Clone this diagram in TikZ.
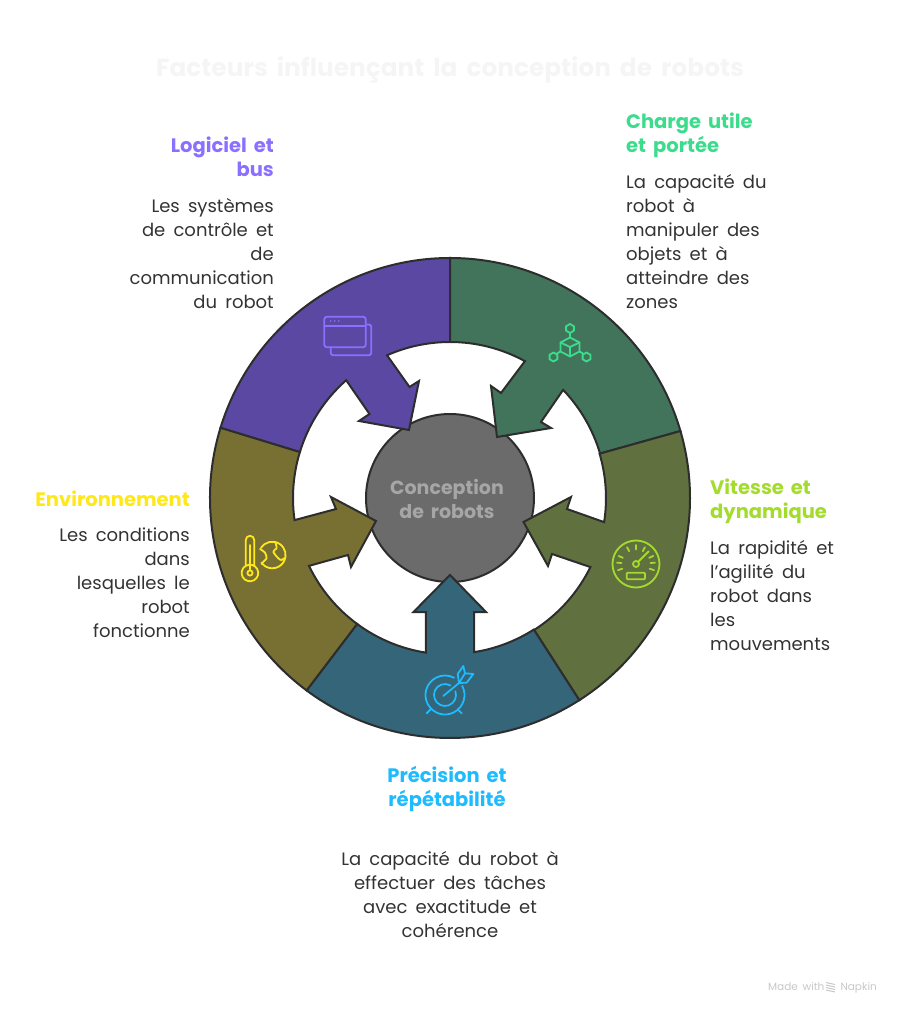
\documentclass[tikz,border=0pt]{standalone}
\usepackage{fontspec}
\setmainfont[WordSpace=1.7]{Poppins}
\usetikzlibrary{positioning}
\definecolor{inkline}{HTML}{2D2D2D}
\definecolor{bodyink}{HTML}{333333}
\definecolor{logicielfill}{HTML}{5B48A2}
\definecolor{chargefill}{HTML}{41745B}
\definecolor{vitessefill}{HTML}{60713F}
\definecolor{precisionfill}{HTML}{346578}
\definecolor{envfill}{HTML}{787033}
\definecolor{logicielink}{HTML}{8B6FFF}
\definecolor{chargeink}{HTML}{3BDC8C}
\definecolor{vitesseink}{HTML}{A4DC2E}
\definecolor{precisionink}{HTML}{1EBBFF}
\definecolor{envink}{HTML}{FFE81A}

\begin{document}
\begin{tikzpicture}[
    x=1pt, y=1pt,
    segment/.style={draw=inkline, line width=2pt, line join=miter},
    hub/.style={draw=inkline, line width=2pt, circle, fill=black!58, minimum size=168pt, inner sep=0pt},
    heading/.style={font=\fontsize{19.5}{24}\selectfont\bfseries, inner sep=0pt},
    body/.style={font=\fontsize{18}{24}\selectfont, text=bodyink, inner sep=0pt},
    icon/.style={line width=1.8pt, line cap=round, line join=round},
    credit/.style={font=\fontsize{10.5}{13}\selectfont, text=black!22, inner sep=0pt}
]
\useasboundingbox (-450,498) rectangle (450,-516);

% Title
\node[font=\fontsize{24.8}{30}\selectfont\bfseries, text=black!4] (title) at (0,428) {Facteurs influençant la conception de robots};

% Hub
\node[hub] (hub) at (0,0) {};

% Segments
\draw[segment, fill=logicielfill] (90:240) arc[start angle=90, end angle=163, radius=240] -- (163:157) arc[start angle=163, end angle=131.4, radius=157]
    -- (-80.5,84) -- (-91,77) -- (-41,68) -- (-31,117) -- (-40.5,111) -- (113.8:156) arc[start angle=113.8, end angle=90, radius=156] -- cycle;
\draw[segment, fill=chargefill] (90:240) arc[start angle=90, end angle=16.2, radius=240] -- (16.5:156.5) arc[start angle=16.5, end angle=43.7, radius=156.5]
    -- (91,76) -- (101,70) -- (47,61) -- (41,112) -- (51,105) -- (61.3:156) arc[start angle=61.3, end angle=90, radius=156] -- cycle;
\draw[segment, fill=vitessefill] (16.2:240) arc[start angle=16.2, end angle=-57.4, radius=240] -- (-57.5:156.5) arc[start angle=-57.5, end angle=-26.2, radius=156.5]
    -- (102,-56) -- (98,-68) -- (73.5,-24) -- (121,1) -- (117,-11) -- (-8.9:156) arc[start angle=-8.9, end angle=16.5, radius=156] -- cycle;
\draw[segment, fill=precisionfill] (-57.4:240) arc[start angle=-57.4, end angle=-126.7, radius=240] -- (-126.4:156.5) arc[start angle=-126.4, end angle=-98.9, radius=156.5]
    -- (-24,-114) -- (-36.5,-114) -- (0,-77) -- (36,-114) -- (24,-114) -- (-81.1:156) arc[start angle=-81.1, end angle=-57.5, radius=156] -- cycle;
\draw[segment, fill=envfill] (-126.7:240) arc[start angle=-126.7, end angle=-197, radius=240] -- (163:157) arc[start angle=163, end angle=188.1, radius=157]
    -- (-114,-11) -- (-119,1) -- (-74,-23) -- (-99,-69) -- (-102,-57) -- (205.7:156.5) arc[start angle=205.7, end angle=233.6, radius=156.5] -- cycle;

% Hub label
\node[font=\fontsize{19}{24}\selectfont\bfseries, text=black!35, align=center] (hublabel) at (-3,-1) {Conception\\de robots};

% Logiciel icon
\begin{scope}[icon, draw=logicielink]
\draw[rounded corners=2.5pt] (-125.7,181.3) rectangle (-84.3,150.7);
\draw (-125.7,172) -- (-84.3,172);
\draw[rounded corners=2.5pt] (-84.3,173.5) -- (-78.7,173.5) -- (-78.7,142.7) -- (-119.3,142.7) -- (-119.3,150.7);
\foreach \dotx in {-119.3,-115.3,-111.3} \fill[logicielink] (\dotx,177) circle (0.9);
\end{scope}

% Charge icon
\begin{scope}[icon, draw=chargeink, shift={(120,151)}]
\draw (0,9.5) -- (9.5,4.5) -- (9.5,-4.5) -- (0,-9.5) -- (-9.5,-4.5) -- (-9.5,4.5) -- cycle;
\draw (-9.5,4.5) -- (0,0) -- (9.5,4.5) (0,0) -- (0,-9.5);
\draw (0,9.5) -- (0,14) (-9.5,-4.5) -- (-13,-6.5) (9.5,-4.5) -- (13,-6.5);
\foreach \hexx/\hexy in {0/18.5,-16.5/-10,16.5/-10}
    \draw[shift={(\hexx,\hexy)}] (90:4.5) -- (30:4.5) -- (-30:4.5) -- (-90:4.5) -- (-150:4.5) -- (150:4.5) -- cycle;
\end{scope}

% Vitesse icon
\begin{scope}[icon, draw=vitesseink, shift={(186,-66)}]
\draw (0,0) circle (23.5);
\draw (0,0) circle (3);
\draw (2.2,2.2) -- (12.7,12.7);
\draw[rounded corners=1pt] (-9.3,-8.7) rectangle (9,-15.3);
\foreach \tick in {-19,4,25,62,90,118,155,176,199}
    \draw (\tick:14.5) -- (\tick:19);
\end{scope}

% Precision icon
\begin{scope}[icon, draw=precisionink, shift={(-5,-197)}]
\draw (28:19.5) arc[start angle=28, end angle=-298, radius=19.5];
\draw (20:11) arc[start angle=20, end angle=-300, radius=11];
\draw (-1.7,-1) -- (14,12);
\draw (14,12) -- (12.7,21) -- (18.3,29) -- (20,21.7) -- (28.3,21) -- (21.7,12.3) -- cycle;
\draw (14,12) -- (20,21.7);
\draw (-18.3,-18.3) -- (-14.3,-14.3) (16.7,-18.3) -- (12.7,-14.3);
\end{scope}

% Environnement icon
\begin{scope}[icon, draw=envink, shift={(-200,-75)}]
\draw (4.2,7.2) -- (4.2,33) arc[start angle=0, end angle=180, radius=4.2] -- (-4.2,7.2) arc[start angle=120, end angle=-300, radius=8.3] -- cycle;
\draw (0,0) circle (2.6);
\draw (0,3) -- (0,28);
\end{scope}
\begin{scope}[icon, draw=envink, shift={(-177.7,-57)}]
\draw (148:13.3) arc[start angle=148, end angle=-145, radius=13.3];
\draw plot[smooth] coordinates {(3.3,12) (4.3,6.7) (1,3.3) (6,-3.3) (9.3,-5) (12,-3)};
\draw plot[smooth] coordinates {(-12.3,6) (-7.3,2.3) (-5.7,-3.3) (-9,-6.7) (-10.7,-9)};
\end{scope}

% Labels
\node[heading, text=logicielink, align=right, anchor=north east] (logiciel) at (-176,361) {Logiciel et\\bus};
\node[body, align=right, anchor=north east] (logicielbody) at (-176,300) {Les systèmes\\de contrôle et\\de\\communication\\du robot};
\node[heading, text=chargeink, align=left, anchor=north west] (charge) at (176,385) {Charge utile\\et portée};
\node[body, align=left, anchor=north west] (chargebody) at (176,324) {La capacité du\\robot à\\manipuler des\\objets et à\\atteindre des\\zones};
\node[heading, text=vitesseink, align=left, anchor=north west] (vitesse) at (260,19) {Vitesse et\\dynamique};
\node[body, align=left, anchor=north west] (vitessebody) at (260,-42) {La rapidité et\\l'agilité du\\robot dans\\les\\mouvements};
\node[heading, text=precisionink, align=center, anchor=north] (precision) at (-3,-268) {Précision et\\répétabilité};
\node[body, align=center, anchor=north] (precisionbody) at (0,-353) {La capacité du robot à\\effectuer des tâches\\avec exactitude et\\cohérence};
\node[heading, text=envink, align=right, anchor=north east] (env) at (-260,7) {Environnement};
\node[body, align=right, anchor=north east] (envbody) at (-260,-30) {Les conditions\\dans\\lesquelles le\\robot\\fonctionne};

% Footer
\node[credit, anchor=base west] (footer) at (318,-492) {Made with};
\node[credit, anchor=base east] (footerbrand) at (427,-492) {Napkin};
\foreach \zig in {-4,-1.5,1,3.5}
    \draw[black!22, line width=1pt] (376,-488+\zig) -- (385,-488+\zig-2);
\end{tikzpicture}
\end{document}
